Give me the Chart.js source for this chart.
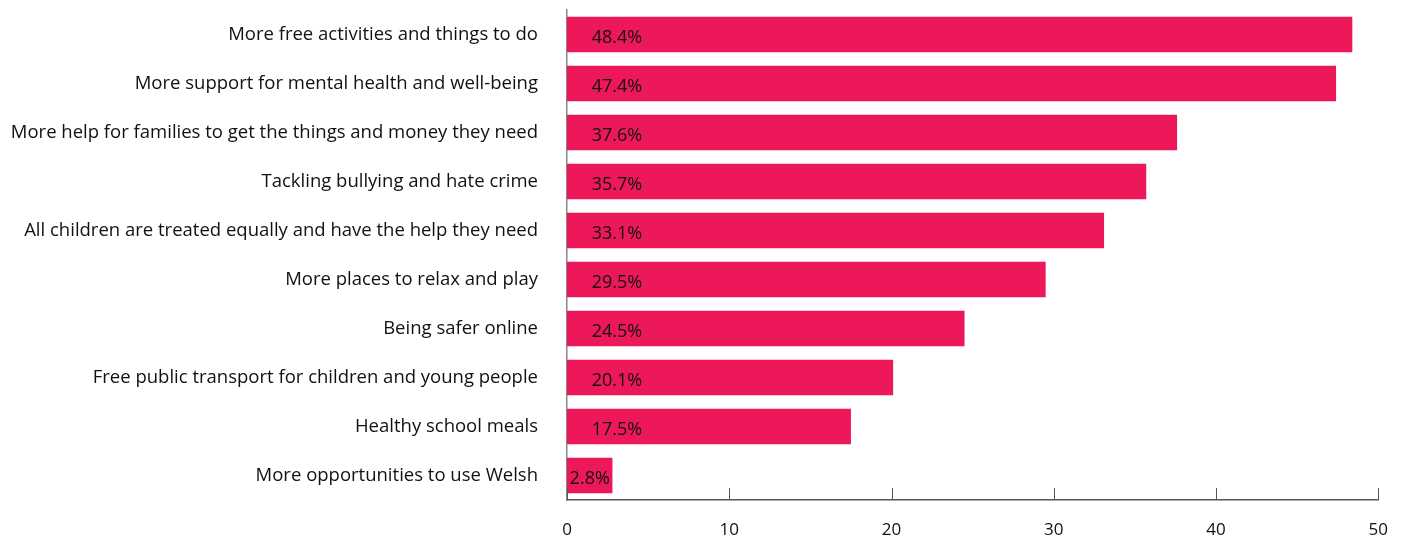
<!DOCTYPE html>
<html>
<head>
<meta charset="utf-8">
<script src="https://cdn.jsdelivr.net/npm/chart.js@4.4.1/dist/chart.umd.min.js"></script>
<style>
  html, body { margin: 0; padding: 0; background: #ffffff; }
  #wrap { width: 1408px; height: 542px; position: relative; }
</style>
</head>
<body>
<div id="wrap"><canvas id="chart" width="1408" height="542"></canvas></div>
<script>
const categories = [
  "More free activities and things to do",
  "More support for mental health and well-being",
  "More help for families to get the things and money they need",
  "Tackling bullying and hate crime",
  "All children are treated equally and have the help they need",
  "More places to relax and play",
  "Being safer online",
  "Free public transport for children and young people",
  "Healthy school meals",
  "More opportunities to use Welsh"
];
const percentages = [48.4, 47.4, 37.6, 35.7, 33.1, 29.5, 24.5, 20.1, 17.5, 2.8];
const xTicks = [0, 10, 20, 30, 40, 50];

const FONT = "'Open Sans', sans-serif";
const BAR = "#ED1859";
const AXIS = "#555555";

// Short upward tick marks on the value axis
const upTicks = {
  id: "upTicks",
  afterDraw(chart) {
    const { ctx, scales: { x }, chartArea } = chart;
    ctx.save();
    ctx.strokeStyle = AXIS;
    ctx.lineWidth = 1;
    xTicks.forEach(v => {
      const px = Math.round(x.getPixelForValue(v)) + 0.5;
      ctx.beginPath();
      ctx.moveTo(px, chartArea.bottom);
      ctx.lineTo(px, chartArea.bottom - 12);
      ctx.stroke();
    });
    ctx.restore();
  }
};

// Percentage labels inside the bars
const valueLabels = {
  id: "valueLabels",
  afterDatasetsDraw(chart) {
    const { ctx, scales: { x } } = chart;
    const meta = chart.getDatasetMeta(0);
    ctx.save();
    ctx.font = "18px " + FONT;
    ctx.fillStyle = "#111111";
    ctx.textAlign = "center";
    ctx.textBaseline = "middle";
    meta.data.forEach((bar, i) => {
      const v = percentages[i];
      const start = x.getPixelForValue(0);
      const end = x.getPixelForValue(v);
      const cx = Math.min((start + end) / 2, start + 50);
      ctx.fillText(v.toFixed(1) + "%", cx, bar.y + 3);
    });
    ctx.restore();
  }
};

new Chart(document.getElementById("chart"), {
  type: "bar",
  data: {
    labels: categories,
    datasets: [{
      data: percentages,
      backgroundColor: BAR,
      borderWidth: 0,
      barPercentage: 0.8,
      categoryPercentage: 0.9
    }]
  },
  options: {
    indexAxis: "y",
    responsive: false,
    maintainAspectRatio: false,
    animation: false,
    devicePixelRatio: 1,
    layout: { padding: { top: 0, right: 26, bottom: 0, left: 0 } },
    plugins: { legend: { display: false }, tooltip: { enabled: false } },
    scales: {
      x: {
        min: 0,
        max: 50,
        afterBuildTicks(scale) { scale.ticks = xTicks.map(v => ({ value: v })); },
        afterFit(scale) { scale.height = 42; },
        grid: { display: false, drawTicks: false, tickLength: 0 },
        border: { display: true, color: AXIS, width: 1.5 },
        ticks: { color: "#111111", font: { family: FONT, size: 17 }, padding: 20, maxRotation: 0 }
      },
      y: {
        afterFit(scale) { scale.width = 567; scale.paddingTop = 10; scale.paddingBottom = 0; },
        grid: { display: false, drawTicks: false, tickLength: 0 },
        border: { display: true, color: "#888888", width: 1.5 },
        ticks: { color: "#111111", font: { family: FONT, size: 18.5 }, padding: 29, autoSkip: false }
      }
    }
  },
  plugins: [upTicks, valueLabels]
});
</script>
</body>
</html>
